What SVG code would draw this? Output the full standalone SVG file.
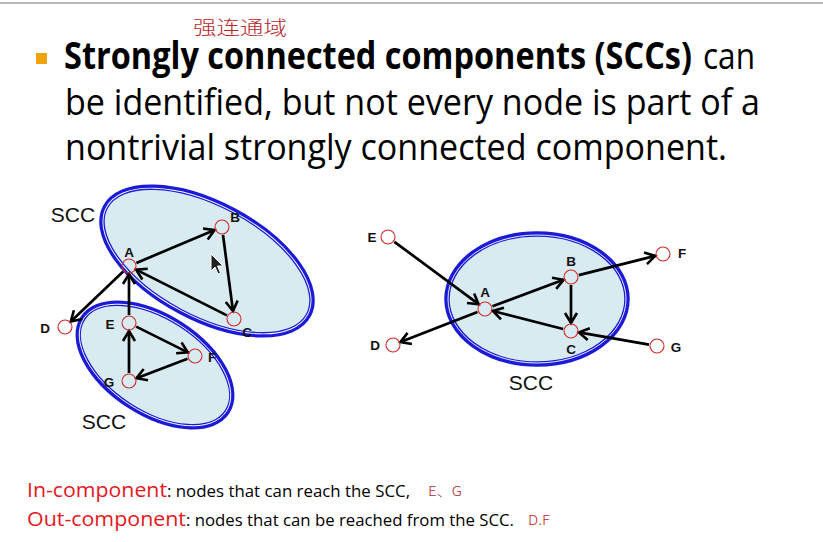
<svg xmlns="http://www.w3.org/2000/svg" width="823" height="542" viewBox="0 0 823 542">
<style>
.title{font-family:"Open Sans","Liberation Sans",sans-serif;font-size:37px;fill:#000}
.b{font-weight:bold}
.node{fill:none;stroke:#d02a2a;stroke-width:1.1}
.lbl{font-family:"Liberation Sans",Arial,sans-serif;font-size:13.5px;font-weight:bold;fill:#111;text-anchor:middle}
.scc{font-family:"Liberation Sans",Arial,sans-serif;font-size:21px;fill:#111;text-anchor:middle}
.ell{fill:#d8ebf1;stroke:#1b1bd6;stroke-width:5.5}
.ellin{fill:none;stroke:#fff;stroke-width:0.9}
.edge{stroke:#000;stroke-width:2.7;fill:none;marker-end:url(#arr)}
.red{font-family:"Open Sans","Liberation Sans",sans-serif;fill:#e5161c}
.small{font-family:"Open Sans","Liberation Sans",sans-serif;font-size:15.5px;fill:#000}
.hand{font-family:"Noto Sans CJK SC","Noto Sans",sans-serif;fill:#b8282b;font-weight:300}
</style>
<defs>
<marker id="arr" markerUnits="userSpaceOnUse" markerWidth="16" markerHeight="16" viewBox="-13 -8 16 16" refX="0" refY="0" orient="auto" style="overflow:visible">
<path d="M-10,-6 L0,0 L-10,6" fill="none" stroke="#000" stroke-width="2.6" stroke-linejoin="miter"/>
</marker>
</defs>
<rect width="823" height="542" fill="#fff"/>
<line x1="0" y1="3" x2="823" y2="3" stroke="#b8b8b8" stroke-width="2"/>

<g id="title">
<rect x="36" y="53" width="11" height="11" fill="#efa30c"/>
<text class="title" y="69"><tspan class="b" x="64" textLength="628" lengthAdjust="spacingAndGlyphs">Strongly connected components (SCCs)</tspan><tspan x="703" textLength="52" lengthAdjust="spacingAndGlyphs">can</tspan></text>
<text class="title" x="65" y="115" textLength="695" lengthAdjust="spacingAndGlyphs">be identified, but not every node is part of a</text>
<text class="title" x="65" y="160" textLength="662" lengthAdjust="spacingAndGlyphs">nontrivial strongly connected component.</text>
<text class="hand" x="193" y="35" font-size="19" textLength="94" lengthAdjust="spacingAndGlyphs">强连通域</text>
</g>

<g id="scc-left-lower">
<ellipse class="ell" cx="155" cy="365" rx="86" ry="48" transform="rotate(33 155 365)"/>
<ellipse class="ellin" cx="155" cy="365" rx="85" ry="47" transform="rotate(33 155 365)"/>
<text class="scc" x="104" y="429">SCC</text>
</g>
<g id="scc-left-upper">
<ellipse class="ell" cx="207" cy="261" rx="115" ry="57" transform="rotate(28 207 261)"/>
<ellipse class="ellin" cx="207" cy="261" rx="114" ry="56" transform="rotate(28 207 261)"/>
<text class="scc" x="73" y="222">SCC</text>
</g>
<g id="scc-right">
<ellipse class="ell" cx="537" cy="299" rx="90" ry="65"/>
<ellipse class="ellin" cx="537" cy="299" rx="89" ry="64"/>
<text class="scc" x="531" y="390">SCC</text>
</g>

<g id="connectors">
<line class="edge" x1="136.4" y1="262.9" x2="214.6" y2="230.1"/>
<line class="edge" x1="223.0" y1="234.9" x2="233.0" y2="311.1"/>
<line class="edge" x1="226.9" y1="315.4" x2="136.1" y2="269.6"/>
<line class="edge" x1="123.2" y1="271.5" x2="70.8" y2="321.5"/>
<line class="edge" x1="129" y1="315" x2="129" y2="274"/>
<line class="edge" x1="136.2" y1="326.6" x2="187.8" y2="352.4"/>
<line class="edge" x1="187.5" y1="358.8" x2="136.5" y2="378.2"/>
<line class="edge" x1="129" y1="373" x2="129" y2="331"/>

<line class="edge" x1="394.4" y1="241.8" x2="478.6" y2="304.2"/>
<line class="edge" x1="492.5" y1="306.2" x2="563.5" y2="279.8"/>
<line class="edge" x1="578.8" y1="275.1" x2="655.2" y2="255.9"/>
<line class="edge" x1="571" y1="285" x2="571" y2="323"/>
<line class="edge" x1="563.2" y1="329.0" x2="492.8" y2="311.0"/>
<line class="edge" x1="649.1" y1="344.6" x2="578.9" y2="332.4"/>
<line class="edge" x1="477.5" y1="311.9" x2="400.4" y2="342.1"/>
</g>

<g id="L-A"><circle class="node" cx="129" cy="266" r="7"/><text class="lbl" x="129" y="257">A</text></g>
<g id="L-B"><circle class="node" cx="222" cy="227" r="7"/><text class="lbl" x="235" y="222">B</text></g>
<g id="L-C"><circle class="node" cx="234" cy="319" r="7"/><text class="lbl" x="247" y="337">C</text></g>
<g id="L-D"><circle class="node" cx="65" cy="327" r="7"/><text class="lbl" x="45" y="333">D</text></g>
<g id="L-E"><circle class="node" cx="129" cy="323" r="7"/><text class="lbl" x="110" y="329">E</text></g>
<g id="L-F"><circle class="node" cx="195" cy="356" r="7"/><text class="lbl" x="212" y="362">F</text></g>
<g id="L-G"><circle class="node" cx="129" cy="381" r="7"/><text class="lbl" x="109" y="387">G</text></g>

<g id="R-A"><circle class="node" cx="485" cy="309" r="7"/><text class="lbl" x="485" y="297">A</text></g>
<g id="R-B"><circle class="node" cx="571" cy="277" r="7"/><text class="lbl" x="571" y="266">B</text></g>
<g id="R-C"><circle class="node" cx="571" cy="331" r="7"/><text class="lbl" x="571" y="354">C</text></g>
<g id="R-D"><circle class="node" cx="393" cy="345" r="7"/><text class="lbl" x="375" y="350">D</text></g>
<g id="R-E"><circle class="node" cx="388" cy="237" r="7"/><text class="lbl" x="372" y="242">E</text></g>
<g id="R-F"><circle class="node" cx="663" cy="254" r="7"/><text class="lbl" x="682" y="258">F</text></g>
<g id="R-G"><circle class="node" cx="657" cy="346" r="7"/><text class="lbl" x="676" y="352">G</text></g>

<path d="M211,254 L211,271 L215,267 L218,274 L220.5,273 L217.5,266 L223,266 Z" fill="#222" stroke="#fff" stroke-width="1"/>

<g id="footnote">
<text class="red" x="27" y="497" font-size="20.5" textLength="140" lengthAdjust="spacingAndGlyphs">In-component</text>
<text class="small" x="167" y="497" textLength="243" lengthAdjust="spacingAndGlyphs">: nodes that can reach the SCC,</text>
<text class="hand" x="428" y="496" font-size="13" textLength="34" lengthAdjust="spacingAndGlyphs">E、G</text>
<text class="red" x="27" y="526" font-size="20.5" textLength="159" lengthAdjust="spacingAndGlyphs">Out-component</text>
<text class="small" x="186" y="526" textLength="328" lengthAdjust="spacingAndGlyphs">: nodes that can be reached from the SCC.</text>
<text class="hand" x="528" y="525" font-size="13" textLength="22" lengthAdjust="spacingAndGlyphs">D.F</text>
</g>
</svg>
